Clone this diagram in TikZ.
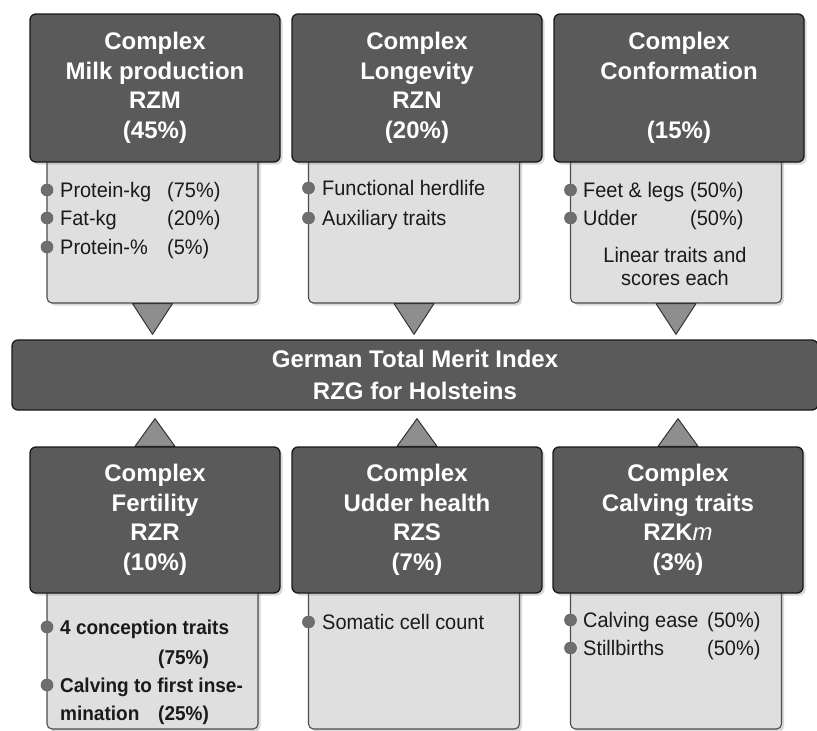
\documentclass[tikz,border=0pt]{standalone}
\usepackage{fontspec}
\setmainfont{Liberation Sans}
\newfontfamily\traitfont{Liberation Sans}[FakeStretch=0.95]
\usetikzlibrary{positioning,calc,backgrounds,shadows}

\definecolor{boxgray}{HTML}{5A5A5A}
\definecolor{panelgray}{HTML}{DFDFDF}
\definecolor{trigray}{HTML}{8E8E8E}
\definecolor{dotgray}{HTML}{6E6E6E}
\definecolor{textgray}{HTML}{1A1A1A}

\tikzset{
	complex/.style={draw=black!90, line width=1.3pt, fill=boxgray, rounded corners=6pt,
		minimum width=250pt, minimum height=148pt, text=white, align=center,
		font=\bfseries\fontsize{24}{29.5}\selectfont,
		drop shadow={opacity=.3, shadow xshift=2.5pt, shadow yshift=-2.5pt}},
	meritbar/.style={draw=black!90, line width=1.3pt, fill=boxgray, rounded corners=6pt,
		minimum width=806pt, minimum height=70pt, text=white, align=center,
		font=\bfseries\fontsize{24}{32}\selectfont},
	panel/.style={draw=black!70, line width=1.1pt, fill=panelgray, rounded corners=5pt,
		minimum width=211pt, inner sep=0pt,
		drop shadow={opacity=.3, shadow xshift=2.5pt, shadow yshift=-2.5pt}},
	trait/.style={anchor=base west, inner sep=0pt, text=textgray, font=\traitfont\fontsize{21}{23}\selectfont},
	btrait/.style={trait, font=\traitfont\bfseries\fontsize{20}{23}\selectfont},
	dot/.style={fill=dotgray, draw=black!60, line width=.6pt},
	tri/.style={fill=trigray, draw=black!80, line width=1pt, line join=round},
}

\begin{document}
\begin{tikzpicture}[x=1pt,y=-1pt]
	\useasboundingbox (0,0) rectangle (817,731);

	\node[panel, minimum height=153pt] (milkp) at (152.5,226.5) {};
	\node[panel, minimum height=153pt] (longp) at (414,226.5) {};
	\node[panel, minimum height=153pt] (confp) at (676,226.5) {};
	\node[panel, minimum height=149pt] (fertp) at (152.5,654.5) {};
	\node[panel, minimum height=149pt] (udderp) at (414,654.5) {};
	\node[panel, minimum height=149pt] (calvp) at (676,654.5) {};

	\node[complex] (milk) at (155,88) {Complex\\Milk production\\RZM\\(45\%)};
	\node[complex] (longev) at (417,88) {Complex\\Longevity\\RZN\\(20\%)};
	\node[complex] (conform) at (679,88) {Complex\\Conformation\\~\\(15\%)};
	\node[complex, minimum height=146pt] (fert) at (155,520) {Complex\\Fertility\\RZR\\(10\%)};
	\node[complex, minimum height=146pt] (udder) at (417,520) {Complex\\Udder health\\RZS\\(7\%)};
	\node[complex, minimum height=146pt] (calv) at (678,520) {Complex\\Calving traits\\RZK{\mdseries\itshape m}\\(3\%)};

	\node[meritbar] (rzg) at (415,375) {German Total Merit Index\\RZG for Holsteins};

	\foreach \p in {milkp,longp,confp}
		\draw[tri] ([xshift=-20pt]\p.south) -- ([xshift=20pt]\p.south) -- ($(\p.south |- rzg.north)+(0,-5)$) -- cycle;
	\begin{scope}[on background layer]
		\foreach \b in {fert,udder,calv}
			\draw[tri] ([xshift=-20pt]\b.north) -- ([xshift=20pt]\b.north) -- ($(\b.north |- rzg.south)+(0,8)$) -- cycle;
	\end{scope}

	\node[trait] (pkg) at (60,197) {Protein-kg};
	\node[trait] (pkgw) at (167,197) {(75\%)};
	\node[trait] (fkg) at (60,225) {Fat-kg};
	\node[trait] (fkgw) at (167,225) {(20\%)};
	\node[trait] (ppc) at (60,254) {Protein-\%};
	\node[trait] (ppcw) at (167,254) {(5\%)};

	\node[trait] (fhl) at (322,195) {Functional herdlife};
	\node[trait] (aux) at (322,225) {Auxiliary traits};

	\node[trait] (feet) at (583,197) {Feet \& legs};
	\node[trait] (feetw) at (690,197) {(50\%)};
	\node[trait] (udr) at (583,225) {Udder};
	\node[trait] (udrw) at (690,225) {(50\%)};
	\node[trait, anchor=center, align=center] (lin) at (675,266) {Linear traits and\\scores each};

	\node[btrait] (conc) at (60,634) {4 conception traits};
	\node[btrait] (concw) at (158,664) {(75\%)};
	\node[btrait] (cfi) at (60,692) {Calving to first inse-};
	\node[btrait] (cfim) at (60,720) {mination};
	\node[btrait] (cfiw) at (158,720) {(25\%)};

	\node[trait] (scc) at (322,629) {Somatic cell count};

	\node[trait] (ease) at (583,627) {Calving ease};
	\node[trait] (easew) at (707,627) {(50\%)};
	\node[trait] (still) at (583,655) {Stillbirths};
	\node[trait] (stillw) at (707,655) {(50\%)};

	\foreach \y in {190,218,247}
		\draw[dot] (47,\y) circle[radius=6pt];
	\foreach \y in {188,218}
		\draw[dot] (308.5,\y) circle[radius=6pt];
	\foreach \y in {190,218}
		\draw[dot] (570.5,\y) circle[radius=6pt];
	\foreach \y in {627,685}
		\draw[dot] (47,\y) circle[radius=6pt];
	\draw[dot] (308.5,622) circle[radius=6pt];
	\foreach \y in {620,648}
		\draw[dot] (570.5,\y) circle[radius=6pt];
\end{tikzpicture}
\end{document}
